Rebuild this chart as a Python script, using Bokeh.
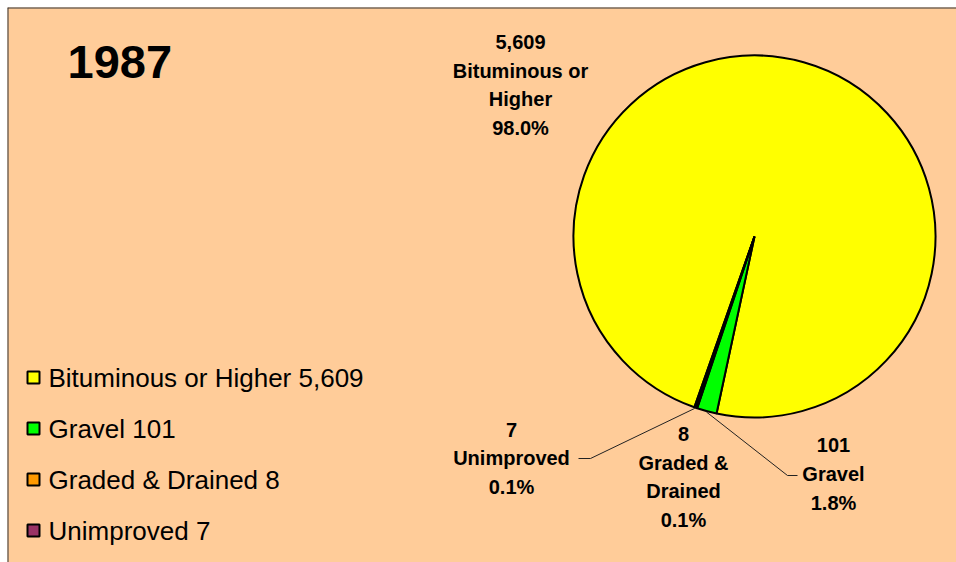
import math
from bokeh.plotting import figure
from bokeh.models import Range1d, Span, ColumnDataSource
from bokeh.core.properties import value
from bokeh.embed import file_html
from bokeh.resources import INLINE

# ---- data ----
categories = ["Bituminous or Higher", "Gravel", "Graded & Drained", "Unimproved"]
miles = [5609, 101, 8, 7]
colors = ["#FFFF00", "#00FF00", "#FF9900", "#993366"]
year_title = "1987"

W, H = 956, 562
BG = "#FFCC99"
FONT = "Liberation Sans"
L0, T0 = 7, 7  # chart area offset inside the figure

p = figure(width=W, height=H, output_backend="svg", toolbar_location=None,
           x_range=Range1d(L0, W), y_range=Range1d(0, H - T0),
           min_border_left=L0, min_border_top=T0, min_border_right=0, min_border_bottom=0)
p.axis.visible = False
p.grid.visible = False
p.background_fill_color = BG
p.border_fill_color = "white"
p.outline_line_color = None

def sx(x):  # page x -> data x
    return x
def sy(y):  # page y -> data y
    return H - y

# border (top and left visible in reference)
p.add_layout(Span(location=H - T0, dimension="width", line_color="#333333", line_width=2))
p.add_layout(Span(location=L0, dimension="height", line_color="#333333", line_width=2))

# ---- pie ----
cx, cy, R = sx(754), sy(236), 181
start_deg = -109.4
total = sum(miles)
starts, ends, mids, pct = [], [], [], []
cum = 0.0
for m in miles:
    a0 = start_deg - cum / total * 360
    cum += m
    a1 = start_deg - cum / total * 360
    starts.append(math.radians(a0))
    ends.append(math.radians(a1))
    mids.append(math.radians((a0 + a1) / 2))
    pct.append(m / total * 100)

src = ColumnDataSource(dict(start=starts, end=ends, color=colors, cat=categories))
p.wedge(x=cx, y=cy, radius=R, start_angle="start", end_angle="end", direction="clock",
        fill_color="color", line_color="black", line_width=2, source=src)

# ---- data labels ----
label_pos = [(sx(520), sy(84.5)), (sx(833), sy(473.5)), (sx(683), sy(476.5)), (sx(511), sy(458))]
label_text = [
    "{:,}\nBituminous or\nHigher\n{:.1f}%".format(miles[0], pct[0]),
    "{:,}\nGravel\n{:.1f}%".format(miles[1], pct[1]),
    "{:,}\nGraded &\nDrained\n{:.1f}%".format(miles[2], pct[2]),
    "{:,}\nUnimproved\n{:.1f}%".format(miles[3], pct[3]),
]
p.text(x=[q[0] for q in label_pos], y=[q[1] for q in label_pos], text=label_text,
       text_align="center", text_baseline="middle", text_font=value(FONT),
       text_font_style="bold", text_font_size="20px", text_color="black",
       text_line_height=1.3)

# leader lines (Gravel and Unimproved)
def edge(i, r=R + 1):
    return cx + r * math.cos(mids[i]), cy + r * math.sin(mids[i])

gx, gy = edge(1)
p.line(x=[gx, sx(787), sx(797)], y=[gy, sy(475), sy(475)], line_color="#222222", line_width=1)
ux, uy = edge(3)
p.line(x=[ux, sx(590), sx(578)], y=[uy, sy(458), sy(458)], line_color="#222222", line_width=1)

# ---- title ----
p.text(x=[sx(67)], y=[sy(61)], text=[year_title], text_align="left", text_baseline="middle",
       text_font=value(FONT), text_font_style="bold", text_font_size="47px", text_color="black")

# ---- legend (manual) ----
row_y = [377, 428, 479, 530]
p.rect(x=[sx(33)] * 4, y=[sy(v) for v in row_y], width=12, height=12,
       fill_color=colors, line_color="black", line_width=2)
p.text(x=[sx(48)] * 4, y=[sy(v) for v in row_y],
       text=["{} {:,}".format(c, m) for c, m in zip(categories, miles)],
       text_align="left", text_baseline="middle", text_font=value(FONT),
       text_font_size="26px", text_color="black")

open("out.html", "w").write(file_html(p, INLINE))
